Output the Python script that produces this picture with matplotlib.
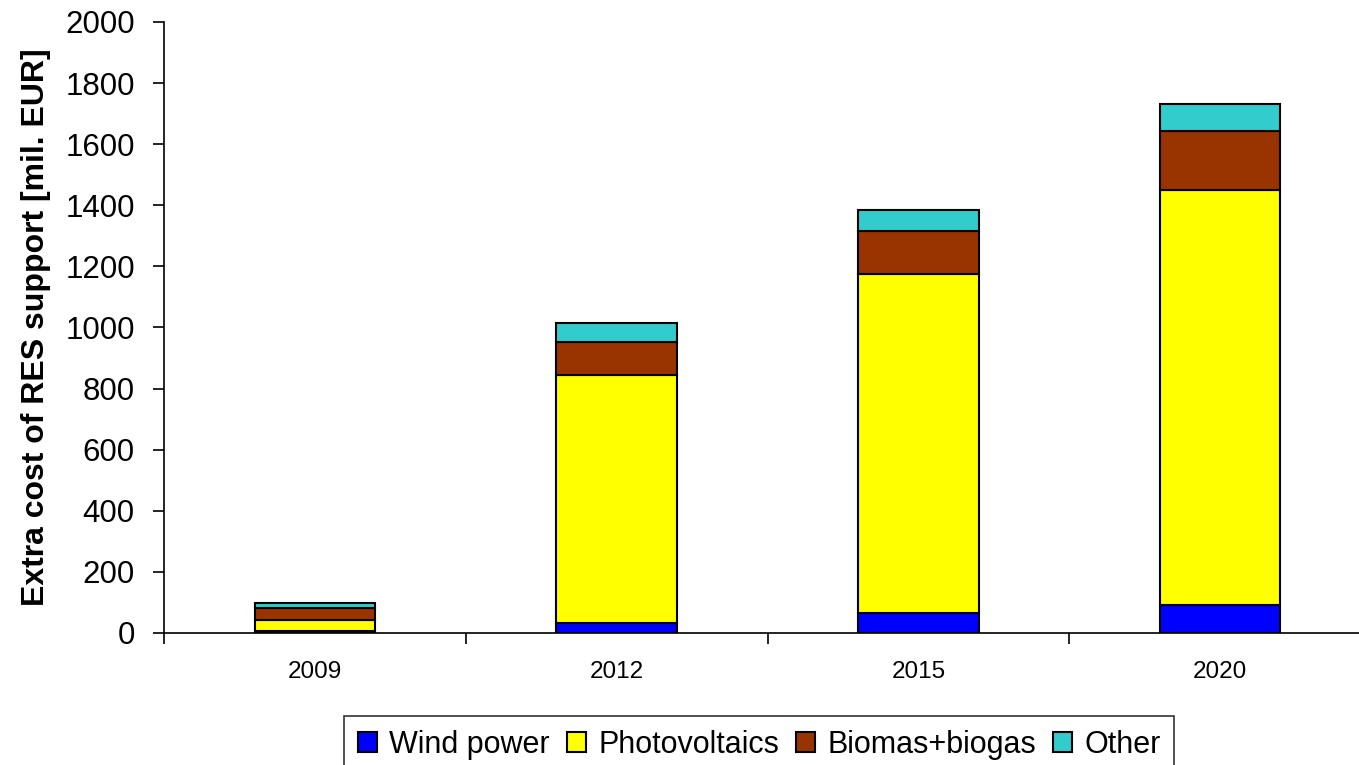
import numpy as np
import matplotlib
matplotlib.use("Agg")
import matplotlib.pyplot as plt

plt.rcParams['font.family'] = ['Liberation Sans', 'DejaVu Sans']

years = ['2009', '2012', '2015', '2020']
wind = [7, 33, 66, 92]
pv = [36, 810, 1108, 1357]
bio = [39, 111, 141, 194]
other = [16, 62, 69, 88]

series = [('Wind power', wind, '#0000FF'),
          ('Photovoltaics', pv, '#FFFF00'),
          ('Biomas+biogas', bio, '#993300'),
          ('Other', other, '#33CCCC')]

fig = plt.figure(figsize=(13.59, 7.65), dpi=100)
ax = fig.add_axes([164 / 1359, 1 - 633 / 765, 1207 / 1359, 611 / 765])

x = np.arange(len(years))
bottom = np.zeros(len(years))
for name, vals, col in series:
    ax.bar(x, vals, 0.4, bottom=bottom, color=col, edgecolor='black',
           linewidth=1.5, label=name)
    bottom += np.array(vals)

ax.set_xlim(-0.5, 3.5)
ax.set_ylim(0, 2000)
ax.set_yticks(range(0, 2001, 200))
ax.set_xticks(x)
ax.set_xticklabels(years, fontsize=17.5)
ax.set_xticks(np.arange(-0.5, 4, 1), minor=True)
ax.tick_params(axis='x', which='major', length=0, pad=20)
ax.tick_params(axis='x', which='minor', length=8, width=1.2, direction='out')
ax.tick_params(axis='y', length=8, width=1.2, direction='out', pad=13, labelsize=22.5)

for s in ['top', 'right']:
    ax.spines[s].set_visible(False)
for s in ['left', 'bottom']:
    ax.spines[s].set_linewidth(1.2)

ax.set_ylabel('Extra cost of RES support [mil. EUR]', fontsize=23,
              fontweight='bold', labelpad=10)

leg = fig.legend(loc='upper left', bbox_to_anchor=(344 / 1359, 1 - 716 / 765),
                 ncol=4, fontsize=22, frameon=True, fancybox=False,
                 edgecolor='black', borderaxespad=0, borderpad=0.45,
                 handlelength=0.63, handleheight=0.63, handletextpad=0.4,
                 columnspacing=0.55)
leg.get_frame().set_linewidth(1.2)

fig.savefig('out.png', dpi=100)
